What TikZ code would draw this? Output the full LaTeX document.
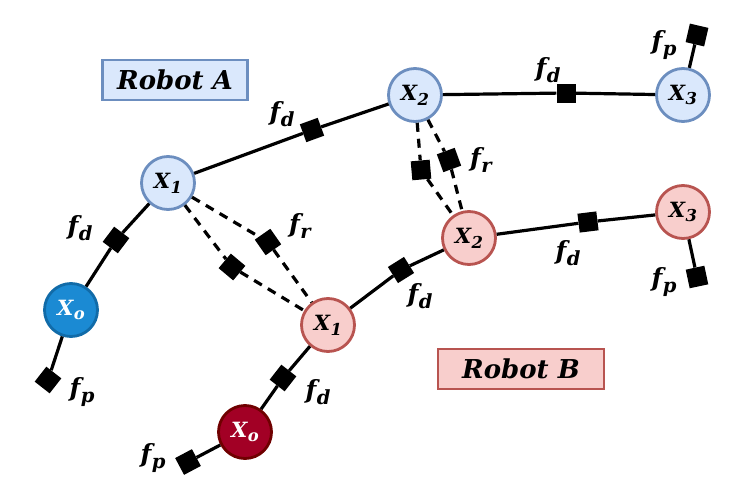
\documentclass[tikz,border=0pt]{standalone}
\usepackage{fontspec}
\setmainfont{DejaVu Serif}
\usepackage{xcolor}
\usepackage{tikz}
\usetikzlibrary{arrows.meta,positioning}
\definecolor{BlueSoft}{HTML}{DAE8FC}
\definecolor{BlueLine}{HTML}{6C8EBF}
\definecolor{RedSoft}{HTML}{F8CECC}
\definecolor{RedLine}{HTML}{B85450}
\definecolor{BlueDeep}{HTML}{1B8AD3}
\definecolor{BlueDeepLine}{HTML}{116BA8}
\definecolor{RedDeep}{HTML}{A20025}
\definecolor{RedDeepLine}{HTML}{6F0000}
% symbol with subscript, set in text fonts
\newcommand{\symb}[2]{#1\kern0.5pt\raisebox{-0.45ex}{\scalebox{0.78}{#2}}}

\begin{document}
\begin{tikzpicture}[x=1pt,y=-1pt,
  link/.style={line width=3.2pt},
  interlink/.style={line width=3.2pt,dash pattern=on 9pt off 7pt},
  var/.style={circle,minimum size=53pt,inner sep=0pt,line width=2.8pt,
              font=\fontsize{21}{24}\selectfont\bfseries\itshape},
  varA/.style={var,fill=BlueSoft,draw=BlueLine},
  varB/.style={var,fill=RedSoft,draw=RedLine},
  factor/.style={rectangle,fill=black,minimum size=19pt,inner sep=0pt},
  flabel/.style={font=\fontsize{25}{28}\selectfont\bfseries\itshape},
  robot/.style={rectangle,line width=2.6pt,minimum height=40pt,
                font=\fontsize{26}{28}\selectfont\bfseries\itshape}
]
  \useasboundingbox (0,0) rectangle (748,498);

  % robot boxes
  \node[robot,fill=BlueSoft,draw=BlueLine,minimum width=145pt] (robotA) at (175,80) {Robot A};
  \node[robot,fill=RedSoft,draw=RedLine,minimum width=166pt] (robotB) at (521,369) {Robot B};

  % robot A poses
  \node[var,fill=BlueDeep,draw=BlueDeepLine,text=white] (xa0) at (71,310) {\symb{X}{o}};
  \node[varA] (xa1) at (168,183) {\symb{X}{1}};
  \node[varA] (xa2) at (415,95) {\symb{X}{2}};
  \node[varA] (xa3) at (683,95) {\symb{X}{3}};

  % robot B poses
  \node[var,fill=RedDeep,draw=RedDeepLine,text=white] (xb0) at (245,432) {\symb{X}{o}};
  \node[varB] (xb1) at (328,325) {\symb{X}{1}};
  \node[varB] (xb2) at (469,238) {\symb{X}{2}};
  \node[varB] (xb3) at (683,212) {\symb{X}{3}};

  % factors of robot A
  \node[factor,rotate=52] (pa0) at (48,380) {};
  \node[factor,rotate=53] (fa1) at (116,240) {};
  \node[factor,rotate=20] (fa2) at (312,130) {};
  \node[factor] (fa3) at (566,93) {};
  \node[factor,rotate=77] (pa3) at (697,35) {};

  % factors of robot B
  \node[factor,rotate=28] (pb0) at (188,462) {};
  \node[factor,rotate=52] (fb1) at (283,378) {};
  \node[factor,rotate=32] (fb2) at (401,270) {};
  \node[factor,rotate=7] (fb3) at (588,222) {};
  \node[factor,rotate=12] (pb3) at (697,277) {};

  % inter-robot factors
  \node[factor,rotate=50] (r1a) at (232,267) {};
  \node[factor,rotate=35] (r1b) at (268,242) {};
  \node[factor,rotate=5] (r2a) at (421,170) {};
  \node[factor,rotate=20] (r2b) at (449,160) {};

  % labels
  \node[flabel] (lpa0) at (82,392) {\symb{f}{p}};
  \node[flabel] (lfa1) at (80,228) {\symb{f}{d}};
  \node[flabel] (lfa2) at (282,114) {\symb{f}{d}};
  \node[flabel] (lfa3) at (548,70) {\symb{f}{d}};
  \node[flabel] (lpa3) at (664,45) {\symb{f}{p}};
  \node[flabel] (lpb0) at (153,458) {\symb{f}{p}};
  \node[flabel] (lfb1) at (318,392) {\symb{f}{d}};
  \node[flabel] (lfb2) at (420,296) {\symb{f}{d}};
  \node[flabel] (lfb3) at (568,253) {\symb{f}{d}};
  \node[flabel] (lpb3) at (664,282) {\symb{f}{p}};
  \node[flabel] (lr1) at (300,226) {\symb{f}{r}};
  \node[flabel] (lr2) at (481,160) {\symb{f}{r}};

  % odometry and priors
  \draw[link] (pa0) -- (xa0) -- (fa1) -- (xa1) -- (fa2) -- (xa2) -- (fa3) -- (xa3) -- (pa3);
  \draw[link] (pb0) -- (xb0) -- (fb1) -- (xb1) -- (fb2) -- (xb2) -- (fb3) -- (xb3) -- (pb3);

  % inter-robot constraints
  \draw[interlink] (xa1) -- (r1a) -- (xb1);
  \draw[interlink] (xa1) -- (r1b) -- (xb1);
  \draw[interlink] (xa2) -- (r2a) -- (xb2);
  \draw[interlink] (xa2) -- (r2b) -- (xb2);
\end{tikzpicture}
\end{document}
